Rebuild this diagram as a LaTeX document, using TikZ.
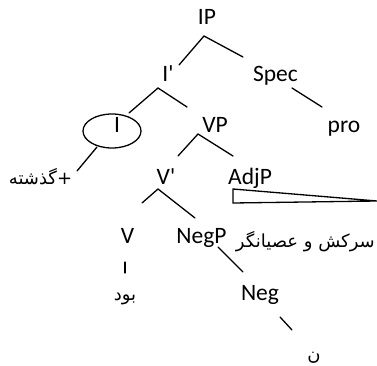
\documentclass[tikz,border=0pt]{standalone}
\usepackage{fontspec}
\usetikzlibrary{shapes.geometric}
\setmainfont{Carlito}
\newfontfamily\arabicfont[Script=Arabic]{DejaVu Sans}
\TeXXeTstate=1
\tikzset{
  lbl/.style={inner sep=0pt, anchor=base, font=\fontsize{23.5}{26}\selectfont},
  albl/.style={inner sep=0pt, anchor=base, font=\arabicfont\fontsize{18}{21}\selectfont},
  edge/.style={line width=1.3pt, line cap=round},
}
\begin{document}
\begin{tikzpicture}[x=1pt,y=-1pt]
\useasboundingbox (0,0) rectangle (377,366);
% labels
\node[lbl] (IP) at (207,25) {IP};
\node[lbl] (Ib) at (168,82) {I\textquotesingle};
\node[lbl] (Spec) at (275.5,82) {Spec};
\node[lbl] (I) at (117,133) {I};
\node[draw, line width=1.3pt, ellipse, minimum width=58pt, minimum height=34pt, inner sep=0pt] (Iell) at (112,131) {};
\node[lbl] (VP) at (215,133) {VP};
\node[lbl] (pro) at (344,133) {pro};
\node[albl] (past) at (40.5,184) {\beginR +گذشته\endR};
\node[lbl] (Vb) at (166,184) {V\textquotesingle};
\node[lbl, anchor=base west] (AdjP) at (228,185) {AdjP};
\node[lbl] (V) at (127.5,243) {V};
\node[lbl] (NegP) at (201.5,243) {NegP};
\node[albl, anchor=base east] (adj) at (375,247) {\beginR سرکش و عصیانگر\endR};
\node[albl] (bud) at (125,300) {\beginR بود\endR};
\node[lbl] (Neg) at (260,300) {Neg};
\node[albl] (nun) at (314,360) {\beginR ن\endR};
% connector end points
\coordinate (IPa) at (204,36);
\coordinate (Ibt) at (179,65);
\coordinate (Spect) at (243,57);
\coordinate (Iba) at (158,88);
\coordinate (It) at (129,113);
\coordinate (VPt) at (187,107);
\coordinate (Specb) at (292,88);
\coordinate (prot) at (322,107);
\coordinate (VPa) at (198,134);
\coordinate (Vbt) at (178,156);
\coordinate (AdjPt) at (233,156);
\coordinate (Ib2) at (97,147);
\coordinate (pastt) at (77,171);
\coordinate (Vba) at (158,189);
\coordinate (Vt) at (142,203);
\coordinate (NegPt) at (195,218);
\coordinate (Vbot) at (125,262);
\coordinate (budt) at (125,273);
\coordinate (NegPb) at (218,247);
\coordinate (Negt) at (243,272);
\coordinate (Negb) at (280,317);
\coordinate (nunt) at (292,330);
% connectors
\draw[edge] (Ibt) -- (IPa) -- (Spect);
\draw[edge] (It) -- (Iba) -- (VPt);
\draw[edge] (Specb) -- (prot);
\draw[edge] (Vbt) -- (VPa) -- (AdjPt);
\draw[edge] (Ib2) -- (pastt);
\draw[edge] (Vt) -- (Vba) -- (NegPt);
\draw[edge] (Vbot) -- (budt);
\draw[edge] (NegPb) -- (Negt);
\draw[edge] (Negb) -- (nunt);
% triangle under AdjP
\draw[line width=1.3pt, line join=miter] (233,189) -- (377,201) -- (233,203) -- cycle;
\end{tikzpicture}
\end{document}
